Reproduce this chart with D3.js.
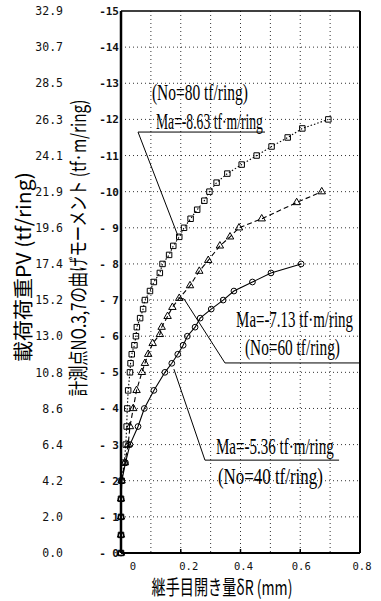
<!DOCTYPE html>
<html>
    <head>
        <meta charset="utf-8">
        <title>継手目開き量</title>
        <script src="https://cdn.jsdelivr.net/npm/d3@7"></script>
        <style>
            body { margin: 0; background: #fff; }
            .grid line { stroke: #333; stroke-width: 1; stroke-dasharray: 1,3; }
            .tk text { font-family: "DejaVu Sans Mono", monospace; fill: #111; font-weight: bold; }
            .ann { font-family: "Liberation Serif", serif; fill: #000; }
            .ttl { font-family: "Noto Sans CJK JP", sans-serif; fill: #000; }
        </style>
    </head>

    <body>
        <script>

            // moment ticks (tf.m/ring) and matching load PV (tf/ring)
            var momentTicks = d3.range(0, -16, -1);
            var momentLabels = ["- 0", "- 1", "- 2", "- 3", "- 4", "- 5", "- 6", "- 7", "- 8", "- 9",
                                "-10", "-11", "-12", "-13", "-14", "-15"];
            var pvLabels = ["0.0", "2.0", "4.2", "6.4", "8.6", "10.8", "13.0", "15.2", "17.4", "19.6",
                            "21.9", "24.1", "26.3", "28.5", "30.7", "32.9"];
            var xTicks = [0, 0.2, 0.4, 0.6, 0.8];
            var xLabels = ["0", "0.2", "0.4", "0.6", "0.8"];

            // No=80 tf/ring (squares)
            var sqM = [0, -0.5, -1, -1.5, -2, -2.5, -3, -3.5, -4, -4.5, -5, -5.25, -5.5, -5.75, -6, -6.25,
                       -6.5, -6.75, -7, -7.25, -7.5, -7.75, -8, -8.25, -8.5, -8.75, -9, -9.25, -9.5, -9.75,
                       -10, -10.25, -10.5, -10.75, -11, -11.25, -11.5, -11.75, -12];
            var sqX = [0, 0, 0, 0, 0.002, 0.011, 0.016, 0.019, 0.021, 0.024, 0.03, 0.032, 0.036, 0.045, 0.05, 0.053,
                       0.064, 0.074, 0.08, 0.097, 0.11, 0.13, 0.139, 0.161, 0.175, 0.195, 0.211, 0.233, 0.255, 0.279,
                       0.296, 0.32, 0.356, 0.404, 0.454, 0.504, 0.558, 0.607, 0.694];

            // No=60 tf/ring (triangles)
            var triM = [0, -0.5, -1, -1.5, -2, -2.5, -3, -3.5, -4, -4.5, -5, -5.25, -5.5, -5.8, -6.05, -6.25,
                        -6.55, -6.8, -7.05, -7.4, -7.8, -8.1, -8.5, -8.75, -9, -9.25, -9.7, -10];
            var triX = [0, 0, 0, 0, 0.002, 0.013, 0.024, 0.03, 0.041, 0.052, 0.07, 0.08, 0.091, 0.106, 0.13, 0.136,
                        0.156, 0.172, 0.195, 0.231, 0.262, 0.292, 0.331, 0.365, 0.395, 0.471, 0.588, 0.672];

            // No=40 tf/ring (circles)
            var cirM = [0, -0.5, -1, -1.5, -2, -2.5, -3, -3.5, -4, -4.5, -5, -5.25, -5.5, -5.75, -6, -6.25,
                        -6.5, -6.75, -7, -7.25, -7.5, -7.75, -8];
            var cirX = [0, 0, 0, 0, 0.003, 0.015, 0.03, 0.057, 0.078, 0.11, 0.147, 0.17, 0.19, 0.208, 0.222, 0.248,
                        0.265, 0.302, 0.342, 0.378, 0.44, 0.502, 0.603];

            var width = 381;
            var height = 601;

            var x = d3.scaleLinear().domain([0, 0.8]).range([121, 360]);
            var y = d3.scaleLinear().domain([0, -15]).range([553, 11]);

            var svg = d3.select("body").append("svg")
                    .attr("width", width)
                    .attr("height", height);

            svg.append("rect").attr("width", width).attr("height", height).attr("fill", "#fff");

            // squeeze a text horizontally to a given width (scanned condensed type)
            function squeeze(sel, w, tx, ty, rot) {
                sel.each(function (d) {
                    var len = this.getComputedTextLength();
                    var ww = typeof w === "function" ? w(d) : w;
                    var px = typeof tx === "function" ? tx(d) : tx;
                    var py = typeof ty === "function" ? ty(d) : ty;
                    d3.select(this).attr("transform", "translate(" + px + "," + py + ")" +
                            (rot ? " rotate(" + rot + ")" : "") + " scale(" + (ww / len) + ",1)");
                });
            }

            // dotted grid
            var grid = svg.append("g").attr("class", "grid");
            grid.selectAll(".h").data(d3.range(-1, -15, -1)).enter().append("line")
                    .attr("x1", x(0)).attr("x2", x(0.8))
                    .attr("y1", d => y(d)).attr("y2", d => y(d));
            grid.selectAll(".v").data(d3.range(1, 8).map(d => d / 10)).enter().append("line")
                    .attr("x1", d => x(d)).attr("x2", d => x(d))
                    .attr("y1", y(-15)).attr("y2", y(0));

            // frame
            svg.append("line").attr("x1", x(0)).attr("x2", x(0.8)).attr("y1", y(-15)).attr("y2", y(-15))
                    .attr("stroke", "#000").attr("stroke-width", 1.5);
            svg.append("line").attr("x1", x(0.8)).attr("x2", x(0.8)).attr("y1", y(-15)).attr("y2", y(0))
                    .attr("stroke", "#000").attr("stroke-width", 2);
            svg.append("line").attr("x1", x(0)).attr("x2", x(0.8)).attr("y1", y(0)).attr("y2", y(0))
                    .attr("stroke", "#000").attr("stroke-width", 2.2);
            svg.append("line").attr("x1", x(0)).attr("x2", x(0)).attr("y1", y(-15)).attr("y2", y(0))
                    .attr("stroke", "#000").attr("stroke-width", 2.5);

            // bottom tick marks
            svg.selectAll(".bt").data([0.2, 0.4, 0.6]).enter().append("line")
                    .attr("x1", d => x(d)).attr("x2", d => x(d))
                    .attr("y1", y(0)).attr("y2", y(0) - 4)
                    .attr("stroke", "#000").attr("stroke-width", 1.5);

            // moment axis labels
            var mAxis = d3.axisLeft(y).tickValues(momentTicks).tickSize(0)
                    .tickFormat((d, i) => momentLabels[i]);
            var gm = svg.append("g").attr("class", "tk").attr("transform", "translate(119,0)").call(mAxis);
            gm.select(".domain").remove();
            gm.selectAll("text").attr("font-size", 11).attr("dx", 0).attr("x", 0);

            // PV axis labels
            var pAxis = d3.axisLeft(y).tickValues(momentTicks).tickSize(0)
                    .tickFormat((d, i) => pvLabels[i]);
            var gp = svg.append("g").attr("class", "tk").attr("transform", "translate(63,0)").call(pAxis);
            gp.select(".domain").remove();
            gp.selectAll("text").attr("font-size", 11.5).attr("x", 0).style("font-weight", "normal");

            // x labels
            svg.append("g").attr("class", "tk").selectAll("text").data(xTicks).enter().append("text")
                    .attr("x", (d, i) => x(d) + [12, 8, 3, 1, 2][i])
                    .attr("y", 570)
                    .attr("text-anchor", "middle")
                    .attr("font-size", 10.5)
                    .style("font-weight", "normal")
                    .text((d, i) => xLabels[i]);

            // series
            var series = [
                {m: sqM, x: sqX, dash: "1.5,2", shape: "sq"},
                {m: triM, x: triX, dash: "5,3", shape: "tri"},
                {m: cirM, x: cirX, dash: null, shape: "cir"}
            ];
            var line = d3.line().x(d => x(d[0])).y(d => y(d[1]));

            series.forEach(function (s) {
                var pts = s.x.map((v, i) => [v, s.m[i]]);
                svg.append("path").datum(pts)
                        .attr("d", line)
                        .attr("fill", "none")
                        .attr("stroke", "#000")
                        .attr("stroke-width", 1.1)
                        .attr("stroke-dasharray", s.dash);
                var sym = s.shape === "sq" ? d3.symbolSquare : s.shape === "tri" ? d3.symbolTriangle : d3.symbolCircle;
                var size = s.shape === "sq" ? 30 : s.shape === "tri" ? 24 : 26;
                svg.append("g").selectAll("path").data(pts).enter().append("path")
                        .attr("d", d3.symbol().type(sym).size(size))
                        .attr("transform", d => "translate(" + x(d[0]) + "," + y(d[1]) + ")")
                        .attr("fill", "none")
                        .attr("stroke", "#000")
                        .attr("stroke-width", 1);
            });

            // annotations (positions in data units)
            var annTexts = [
                {t: "(No=80 tf/ring)", cx: 0.264, by: -12.55, w: 96},
                {t: "Ma=-8.63 tf\u00b7m/ring", cx: 0.296, by: -11.74, w: 107},
                {t: "Ma=-7.13 tf\u00b7m/ring", cx: 0.581, by: -6.25, w: 117},
                {t: "(No=60 tf/ring)", cx: 0.574, by: -5.48, w: 95},
                {t: "Ma=-5.36 tf\u00b7m/ring", cx: 0.515, by: -2.75, w: 118},
                {t: "(No=40 tf/ring)", cx: 0.5, by: -1.9, w: 105}
            ];
            var ann = svg.selectAll(".ann").data(annTexts).enter().append("text")
                    .attr("class", "ann")
                    .attr("text-anchor", "middle")
                    .attr("font-size", 24)
                    .text(d => d.t);
            squeeze(ann, d => d.w, d => x(d.cx), d => y(d.by));

            var leaders = [
                [[0.191, -8.77], [0.057, -11.65], [0.482, -11.65]],
                [[0.191, -7.06], [0.211, -7.03], [0.348, -5.26], [0.8, -5.26]],
                [[0.177, -5.09], [0.281, -2.57], [0.73, -2.57]]
            ];
            svg.selectAll(".lead").data(leaders).enter().append("path")
                    .attr("d", line)
                    .attr("fill", "none")
                    .attr("stroke", "#000")
                    .attr("stroke-width", 1);

            // axis titles
            var t1 = svg.append("text").attr("class", "ttl")
                    .attr("text-anchor", "middle")
                    .attr("font-size", 20)
                    .text("載荷荷重PV (tf/ring)");
            squeeze(t1, 190, 31, 267, -90);

            var t2 = svg.append("text").attr("class", "ttl")
                    .attr("text-anchor", "middle")
                    .attr("font-size", 20)
                    .text("計測点NO.3,7の曲げモーメント (tf·m/ring)");
            squeeze(t2, 297, 86, 248, -90);

            var t3 = svg.append("text").attr("class", "ttl")
                    .attr("text-anchor", "middle")
                    .attr("font-size", 20)
                    .text("継手目開き量δR (mm)");
            squeeze(t3, 141, 222, 595);

        </script>
    </body>
</html>
